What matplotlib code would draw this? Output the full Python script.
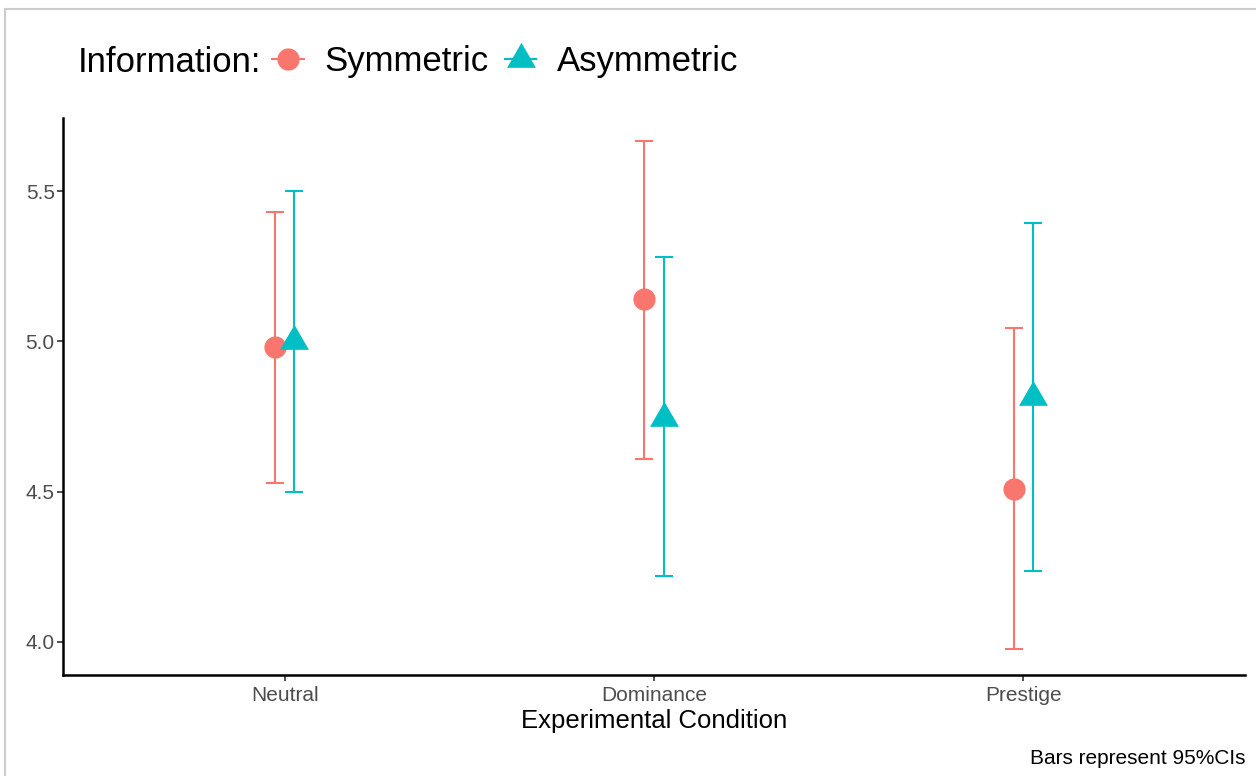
import matplotlib
matplotlib.use("Agg")
import matplotlib.pyplot as plt
from matplotlib.lines import Line2D
from matplotlib.patches import Rectangle
import numpy as np

plt.rcParams['font.family'] = ['Liberation Sans', 'DejaVu Sans']

# data
conditions = ["Neutral", "Dominance", "Prestige"]
sym_mean = [4.98, 5.14, 4.51]
sym_lo   = [4.53, 4.61, 3.975]
sym_hi   = [5.43, 5.665, 5.045]
asym_mean = [5.00, 4.745, 4.815]
asym_lo   = [4.50, 4.22, 4.235]
asym_hi   = [5.50, 5.28, 5.395]
y_ticks = [4.0, 4.5, 5.0, 5.5]

red  = "#F8766D"
teal = "#00BFC4"

# equilateral triangle centred on its centroid (like R pch 17)
tri = [(0, 1), (0.866, -0.5), (-0.866, -0.5), (0, 1)]

W, H = 1256, 776
fig = plt.figure(figsize=(W / 100, H / 100), dpi=100)
ax = fig.add_axes([63 / W, (H - 675) / H, (1245 - 63) / W, (675 - 118) / H])

x = np.arange(1, len(conditions) + 1)
dodge = 0.026
xs = x - dodge
xa = x + dodge

def errs(mean, lo, hi):
    mean = np.array(mean)
    return [mean - np.array(lo), np.array(hi) - mean]

ax.errorbar(xs, sym_mean, yerr=errs(sym_mean, sym_lo, sym_hi), fmt="none",
            ecolor=red, elinewidth=1.5, capsize=6.5, capthick=1.5, zorder=2)
ax.errorbar(xa, asym_mean, yerr=errs(asym_mean, asym_lo, asym_hi), fmt="none",
            ecolor=teal, elinewidth=1.5, capsize=6.5, capthick=1.5, zorder=2)
ax.plot(xs, sym_mean, "o", color=red, markersize=16, markeredgewidth=0, zorder=3)
ax.plot(xa, asym_mean, linestyle="none", marker=tri, color=teal, markersize=24,
        markeredgewidth=0, zorder=4)

ax.set_xlim(0.4, 3.6)
ax.set_ylim(3.89, 5.743)
ax.set_xticks(x)
ax.set_xticklabels(conditions)
ax.set_yticks(y_ticks)
ax.set_yticklabels(["%.1f" % v for v in y_ticks])

for side in ["top", "right"]:
    ax.spines[side].set_visible(False)
for side in ["left", "bottom"]:
    ax.spines[side].set_linewidth(1.8)
    ax.spines[side].set_color("black")
ax.tick_params(axis="both", which="major", length=4, width=1.2, color="#333333",
               labelcolor="#4D4D4D", labelsize=15)
ax.tick_params(axis="y", pad=2)
ax.tick_params(axis="x", pad=4)
ax.set_xlabel("Experimental Condition", fontsize=18.5, color="black", labelpad=3)

# legend on top
fig.text(78 / W, 1 - 63 / H, "Information:", fontsize=25, va="center", ha="left")
handles = [
    Line2D([], [], color=red, marker="o", markersize=16, markeredgewidth=0, linewidth=1.5),
    Line2D([], [], color=teal, marker=tri, markersize=24, markeredgewidth=0, linewidth=1.5),
]
fig.legend(handles, ["Symmetric", "Asymmetric"], loc="center left",
           bbox_to_anchor=(272 / W, 1 - 62 / H), ncol=2, frameon=False,
           fontsize=25, handlelength=0.92, handletextpad=0.6, columnspacing=0.45,
           borderpad=0, borderaxespad=0)

fig.text(1245 / W, 1 - 758 / H, "Bars represent 95%CIs", fontsize=15,
         ha="right", va="center")

# light frame around the picture
fig.add_artist(Rectangle((5 / W, -0.1), 1.2, (H - 9) / H + 0.1, transform=fig.transFigure,
                         fill=False, edgecolor="#CCCCCC", linewidth=1.5))

fig.savefig("out.png", dpi=100)
